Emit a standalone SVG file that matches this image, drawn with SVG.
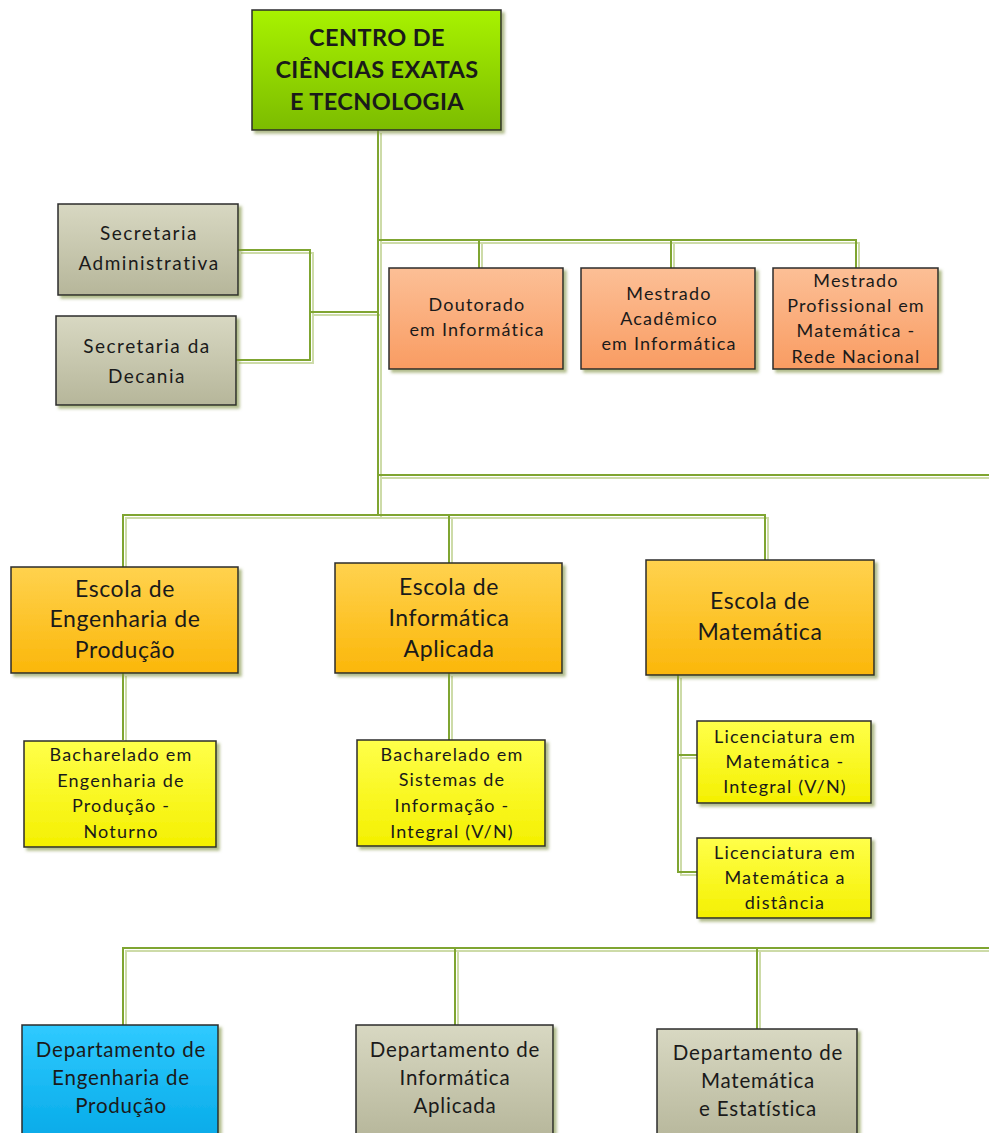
<svg xmlns="http://www.w3.org/2000/svg" xmlns:xlink="http://www.w3.org/1999/xlink" width="989" height="1133" viewBox="0 0 989 1133">
<defs>
<linearGradient id="gLime" x1="0" y1="0" x2="0" y2="1"><stop offset="0" stop-color="#a8f200"/><stop offset="1" stop-color="#7cbc00"/></linearGradient>
<linearGradient id="gGray" x1="0" y1="0" x2="0" y2="1"><stop offset="0" stop-color="#d8d8c2"/><stop offset="1" stop-color="#b6b69a"/></linearGradient>
<linearGradient id="gOrange" x1="0" y1="0" x2="0" y2="1"><stop offset="0" stop-color="#fcbf96"/><stop offset="1" stop-color="#f99c62"/></linearGradient>
<linearGradient id="gGold" x1="0" y1="0" x2="0" y2="1"><stop offset="0" stop-color="#ffd24e"/><stop offset="1" stop-color="#fbb70a"/></linearGradient>
<linearGradient id="gYellow" x1="0" y1="0" x2="0" y2="1"><stop offset="0" stop-color="#ffff4a"/><stop offset="1" stop-color="#f4f000"/></linearGradient>
<linearGradient id="gBlue" x1="0" y1="0" x2="0" y2="1"><stop offset="0" stop-color="#30caff"/><stop offset="1" stop-color="#05aae8"/></linearGradient>
<filter id="sh" x="-10%" y="-10%" width="125%" height="130%"><feDropShadow dx="3" dy="3" stdDeviation="1.5" flood-color="#7d8f3c" flood-opacity="0.6"/></filter>
<g id="connPaths">
<path d="M378 130 V515"/>
<path d="M238 250 H310 V360 H236"/>
<path d="M310 312 H378"/>
<path d="M378 240 H856 V268 M479 240 V268 M671 240 V268"/>
<path d="M378 475 H995"/>
<path d="M123 567 V515 H765 V560 M449 515 V563"/>
<path d="M123 673 V740"/>
<path d="M449 673 V740"/>
<path d="M678 675 V872 H697 M678 755 H697"/>
<path d="M123 1025 V948 H995 M455 948 V1025 M757 948 V1029"/>
</g>
</defs>
<style>
.box{stroke:#2b2b2b;stroke-width:1.5;filter:url(#sh)}
.t{font-family:Lato,"Liberation Sans",sans-serif;fill:#1a1a1a;text-anchor:middle}
.tb{font-weight:bold;font-size:23.5px;letter-spacing:0.4px}
.s17{font-size:18px;letter-spacing:1.2px}
.s18{font-size:19px;letter-spacing:1.5px}
.s19{font-size:20.5px;letter-spacing:0.8px}
.s21{font-size:23px;letter-spacing:0.6px}
.cl{fill:none;stroke:#7fa531;stroke-width:2}
.cs{fill:none;stroke:#cddba8;stroke-width:2}
</style>
<rect width="989" height="1133" fill="#ffffff"/>
<g id="connectors">
<use xlink:href="#connPaths" class="cs" transform="translate(3,3)"/>
<use xlink:href="#connPaths" class="cl"/>
</g>
<g id="n-centro"><rect class="box" x="252" y="10" width="249" height="120" fill="url(#gLime)"/>
<text class="t tb" x="377" y="46">CENTRO DE</text><text class="t tb" x="377" y="78">CIÊNCIAS EXATAS</text><text class="t tb" x="377" y="110">E TECNOLOGIA</text></g>
<g id="n-secadm"><rect class="box" x="58" y="204" width="180" height="91" fill="url(#gGray)"/>
<text class="t s18" x="149" y="240">Secretaria</text><text class="t s18" x="149" y="270">Administrativa</text></g>
<g id="n-secdec"><rect class="box" x="56" y="316" width="180" height="89" fill="url(#gGray)"/>
<text class="t s18" x="147" y="353">Secretaria da</text><text class="t s18" x="147" y="383">Decania</text></g>
<g id="n-doutorado"><rect class="box" x="389" y="268" width="174" height="101" fill="url(#gOrange)"/>
<text class="t s17" x="477" y="311">Doutorado</text><text class="t s17" x="477" y="336">em Informática</text></g>
<g id="n-mestacad"><rect class="box" x="581" y="268" width="174" height="101" fill="url(#gOrange)"/>
<text class="t s17" x="669" y="300">Mestrado</text><text class="t s17" x="669" y="325">Acadêmico</text><text class="t s17" x="669" y="350">em Informática</text></g>
<g id="n-mestprof"><rect class="box" x="773" y="268" width="165" height="101" fill="url(#gOrange)"/>
<text class="t s17" x="856" y="287">Mestrado</text><text class="t s17" x="856" y="312">Profissional em</text><text class="t s17" x="856" y="337">Matemática -</text><text class="t s17" x="856" y="363">Rede Nacional</text></g>
<g id="n-eep"><rect class="box" x="11" y="567" width="227" height="106" fill="url(#gGold)"/>
<text class="t s21" x="125" y="597">Escola de</text><text class="t s21" x="125" y="627">Engenharia de</text><text class="t s21" x="125" y="658">Produção</text></g>
<g id="n-eia"><rect class="box" x="335" y="563" width="227" height="110" fill="url(#gGold)"/>
<text class="t s21" x="449" y="595">Escola de</text><text class="t s21" x="449" y="626">Informática</text><text class="t s21" x="449" y="657">Aplicada</text></g>
<g id="n-em"><rect class="box" x="646" y="560" width="228" height="115" fill="url(#gGold)"/>
<text class="t s21" x="760" y="609">Escola de</text><text class="t s21" x="760" y="640">Matemática</text></g>
<g id="n-bachep"><rect class="box" x="24" y="741" width="192" height="106" fill="url(#gYellow)"/>
<text class="t s17" x="121" y="761">Bacharelado em</text><text class="t s17" x="121" y="787">Engenharia de</text><text class="t s17" x="121" y="812">Produção -</text><text class="t s17" x="121" y="838">Noturno</text></g>
<g id="n-bachsi"><rect class="box" x="357" y="740" width="188" height="106" fill="url(#gYellow)"/>
<text class="t s17" x="452" y="761">Bacharelado em</text><text class="t s17" x="452" y="786">Sistemas de</text><text class="t s17" x="452" y="812">Informação -</text><text class="t s17" x="452" y="838">Integral (V/N)</text></g>
<g id="n-lic1"><rect class="box" x="697" y="721" width="174" height="82" fill="url(#gYellow)"/>
<text class="t s17" x="785" y="743">Licenciatura em</text><text class="t s17" x="785" y="768">Matemática -</text><text class="t s17" x="785" y="793">Integral (V/N)</text></g>
<g id="n-lic2"><rect class="box" x="697" y="838" width="174" height="80" fill="url(#gYellow)"/>
<text class="t s17" x="785" y="859">Licenciatura em</text><text class="t s17" x="785" y="884">Matemática a</text><text class="t s17" x="785" y="909">distância</text></g>
<g id="n-depep"><rect class="box" x="22" y="1025" width="196" height="115" fill="url(#gBlue)"/>
<text class="t s19" x="121" y="1057">Departamento de</text><text class="t s19" x="121" y="1085">Engenharia de</text><text class="t s19" x="121" y="1113">Produção</text></g>
<g id="n-depia"><rect class="box" x="356" y="1025" width="197" height="115" fill="url(#gGray)"/>
<text class="t s19" x="455" y="1057">Departamento de</text><text class="t s19" x="455" y="1085">Informática</text><text class="t s19" x="455" y="1113">Aplicada</text></g>
<g id="n-depme"><rect class="box" x="657" y="1029" width="200" height="115" fill="url(#gGray)"/>
<text class="t s19" x="758" y="1060">Departamento de</text><text class="t s19" x="758" y="1088">Matemática</text><text class="t s19" x="758" y="1116">e Estatística</text></g>
</svg>
